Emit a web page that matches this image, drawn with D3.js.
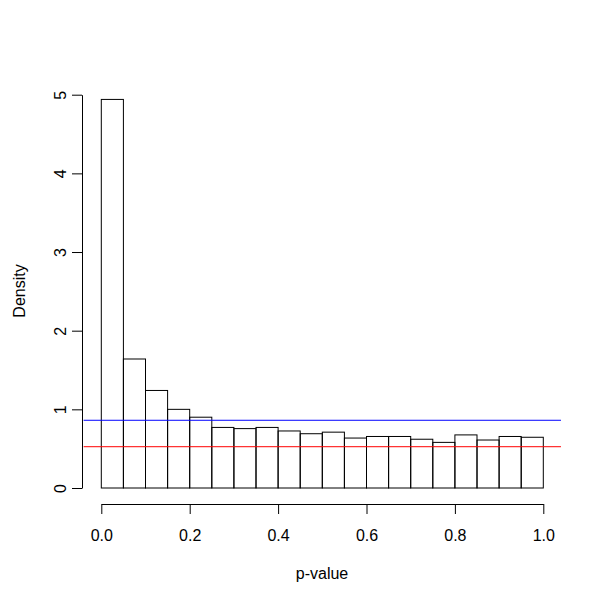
<!DOCTYPE html>
<html>
<head>
<meta charset="utf-8">
<script src="https://cdn.jsdelivr.net/npm/d3@7"></script>
<style>
  body { margin: 0; background: #fff; }
  text { font-family: Arial, "Liberation Sans", sans-serif; }
</style>
</head>
<body>
<svg id="chart" width="600" height="600"></svg>
<script>
// histogram of p-values, 20 bins of width 0.05
let binStarts = [0.00, 0.05, 0.10, 0.15, 0.20, 0.25, 0.30, 0.35, 0.40, 0.45,
                 0.50, 0.55, 0.60, 0.65, 0.70, 0.75, 0.80, 0.85, 0.90, 0.95];
let densities = [4.94, 1.64, 1.24, 1.00, 0.90, 0.77, 0.755, 0.77, 0.725, 0.69,
                 0.71, 0.635, 0.655, 0.655, 0.62, 0.58, 0.675, 0.61, 0.655, 0.645];
let binWidth = 0.05;
let xTicks = [0, 0.2, 0.4, 0.6, 0.8, 1.0];
let yTicks = [0, 1, 2, 3, 4, 5];
// horizontal reference lines
let refLines = [
  {value: 0.861, color: "#0000ff"},
  {value: 0.525, color: "#ff0000"}
];

let svg = d3.select("#chart");

let xScale = d3.scaleLinear().domain([0, 1]).range([101.3, 543.3]);
let yScale = d3.scaleLinear().domain([0, 5]).range([488, 94.7]);

// bars
svg.append("g")
  .selectAll("rect")
  .data(binStarts)
  .enter()
  .append("rect")
  .attr("x", d => xScale(d))
  .attr("y", (d, i) => yScale(densities[i]))
  .attr("width", d => xScale(d + binWidth) - xScale(d))
  .attr("height", (d, i) => yScale(0) - yScale(densities[i]))
  .attr("fill", "none")
  .attr("stroke", "#000")
  .attr("stroke-width", 1);

// reference lines across the plot region
svg.append("g")
  .selectAll("line")
  .data(refLines)
  .enter()
  .append("line")
  .attr("x1", xScale(-0.04))
  .attr("x2", xScale(1.04))
  .attr("y1", d => yScale(d.value))
  .attr("y2", d => yScale(d.value))
  .attr("stroke", d => d.color)
  .attr("stroke-width", 1);

// x axis
let xAxis = d3.axisBottom(xScale)
  .tickValues(xTicks)
  .tickFormat(d3.format(".1f"))
  .tickSize(10)
  .tickPadding(16)
  .tickSizeOuter(0);

let gx = svg.append("g")
  .attr("transform", "translate(0,504)")
  .call(xAxis);
gx.select(".domain").attr("stroke", "#000");
gx.selectAll("text").attr("font-size", 16).attr("fill", "#000")
  .style("font-family", "Arial, 'Liberation Sans', sans-serif");

// y axis
let yAxis = d3.axisLeft(yScale)
  .tickValues(yTicks)
  .tickFormat(d3.format("d"))
  .tickSize(10)
  .tickPadding(0)
  .tickSizeOuter(0);

let gy = svg.append("g")
  .attr("transform", "translate(82,0)")
  .call(yAxis);
gy.select(".domain").attr("stroke", "#000");
gy.selectAll(".tick text")
  .attr("font-size", 16)
  .attr("fill", "#000")
  .attr("x", null)
  .attr("dy", null)
  .attr("text-anchor", "middle")
  .attr("transform", "translate(-16,0) rotate(-90)")
  .style("font-family", "Arial, 'Liberation Sans', sans-serif");

// axis titles
svg.append("text")
  .attr("x", 322)
  .attr("y", 579)
  .attr("text-anchor", "middle")
  .attr("font-size", 16)
  .text("p-value");

svg.append("text")
  .attr("transform", "translate(25,291) rotate(-90)")
  .attr("text-anchor", "middle")
  .attr("font-size", 16)
  .text("Density");
</script>
</body>
</html>
